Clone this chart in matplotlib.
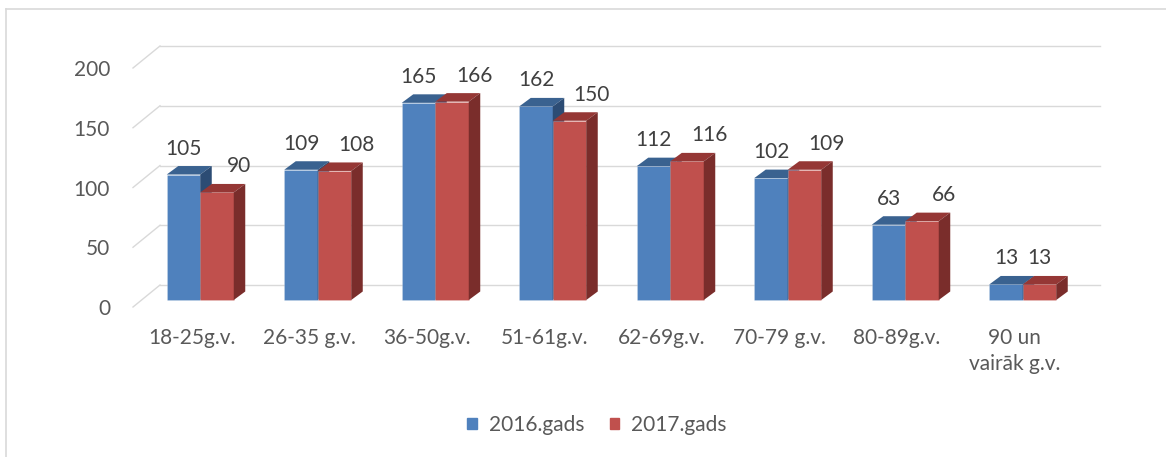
import matplotlib.pyplot as plt
from matplotlib.patches import Polygon, Patch
from matplotlib.lines import Line2D

cats = ['18-25g.v.', '26-35 g.v.', '36-50g.v.', '51-61g.v.', '62-69g.v.',
        '70-79 g.v.', '80-89g.v.', '90 un\nvairāk g.v.']
v2016 = [105, 109, 165, 162, 112, 102, 63, 13]
v2017 = [90, 108, 166, 150, 116, 109, 66, 13]
yticks = [0, 50, 100, 150, 200]
series = ['2016.gads', '2017.gads']

# colours: front, top, side
blue = ('#4F81BD', '#3A6290', '#2C4C74')
red = ('#C0504D', '#953735', '#7A2D2B')
grid_c = '#D9D9D9'
text_c = '#595959'

plt.rcParams['font.family'] = ['Lato', 'DejaVu Sans']
plt.rcParams['font.size'] = 15

fig = plt.figure(figsize=(11.66, 4.57), dpi=100)
ax = fig.add_axes([133 / 1166, 150 / 457, 940 / 1166, 239 / 457])
ax.set_xlim(-0.5, 7.5)
ax.set_ylim(0, 200)
for s in ax.spines.values():
    s.set_visible(False)

# depth of the walls and the bars (data units)
px_x = 117.5
px_y = 239 / 200
WX, WY = 27 / px_x, 22 / px_y
BX0, BY0 = 8.5 / px_x, 7 / px_y
BDX, BDY = 11.5 / px_x, 8.5 / px_y
W = 33.5 / px_x

# gridlines: back wall + left wall diagonals
for t in yticks:
    ax.plot([-0.5 + WX, 7.5 + WX], [t + WY, t + WY], color=grid_c, lw=1.0,
            clip_on=False, zorder=0)
    ax.plot([-0.5, -0.5 + WX], [t, t + WY], color=grid_c, lw=1.0,
            clip_on=False, zorder=0)


def bar3d(x0, v, cols, z):
    b = BY0
    top = v + BY0
    ax.bar(x0, v, width=W, bottom=b, align='edge', color=cols[0],
           edgecolor='#ffffff40', linewidth=0.5, zorder=z, clip_on=False)
    ax.add_patch(Polygon([(x0, top), (x0 + W, top), (x0 + W + BDX, top + BDY),
                          (x0 + BDX, top + BDY)], closed=True, fc=cols[1],
                         ec='none', zorder=z, clip_on=False))
    ax.add_patch(Polygon([(x0 + W, b), (x0 + W + BDX, b + BDY),
                          (x0 + W + BDX, top + BDY), (x0 + W, top)], closed=True,
                         fc=cols[2], ec='none', zorder=z, clip_on=False))


for i in range(len(cats)):
    xb = i + BX0 - W
    xr = i + BX0
    bar3d(xb, v2016[i], blue, 2)
    bar3d(xr, v2017[i], red, 3)
    ax.annotate(str(v2016[i]), (xb + W / 2, v2016[i] + BY0), xytext=(0, 26),
                textcoords='offset pixels', ha='center', va='center',
                color='#404040', zorder=5)
    dx = 22 if v2017[i] != v2016[i] else 0
    ax.annotate(str(v2017[i]), (xr + W / 2, v2017[i] + BY0), xytext=(dx, 26),
                textcoords='offset pixels', ha='center', va='center',
                color='#404040', zorder=5)

ax.set_yticks(yticks)
ax.set_xticks(range(len(cats)))
ax.set_xticklabels(cats, linespacing=1.4)
ax.tick_params(axis='y', length=0, pad=16.5, colors=text_c)
ax.tick_params(axis='x', length=0, pad=15, colors=text_c)

handles = [Patch(color=blue[0]), Patch(color=red[0])]
leg = fig.legend(handles, series, loc='center', bbox_to_anchor=(597 / 1166, 1 - 425 / 457),
                 ncol=2, frameon=False, handlelength=0.45, handleheight=0.45,
                 handletextpad=0.6, columnspacing=1.2)
for t in leg.get_texts():
    t.set_color(text_c)

# chart area border (left and top)
fig.add_artist(Line2D([6 / 1166, 1], [1 - 9 / 457, 1 - 9 / 457], color=grid_c, lw=1.2))
fig.add_artist(Line2D([6 / 1166, 6 / 1166], [0, 1 - 9 / 457], color=grid_c, lw=1.2))

fig.savefig('out.png', dpi=100)
